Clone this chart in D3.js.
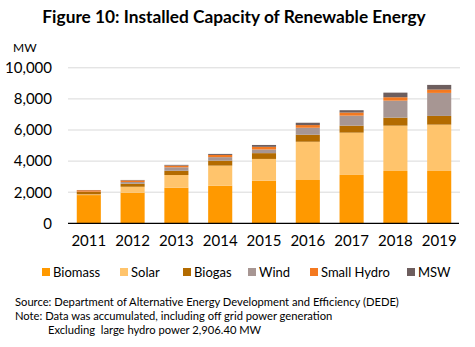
<html>
<head>
<script src="https://d3js.org/d3.v7.min.js"></script>
<style>
body { margin: 0; background: #fff; }
text { font-family: Lato, "Open Sans", sans-serif; fill: #000; }
</style>
</head>
<body>
<svg id="chart" width="475" height="347"></svg>
<script>
var years = ["2011", "2012", "2013", "2014", "2015", "2016", "2017", "2018", "2019"];
var seriesNames = ["Biomass", "Solar", "Biogas", "Wind", "Small Hydro", "MSW"];
var biomass    = [1815, 1965, 2290, 2420, 2740, 2785, 3110, 3365, 3365];
var solar      = [50, 385, 815, 1290, 1400, 2460, 2720, 2915, 2980];
var biogas     = [160, 193, 275, 320, 372, 450, 450, 515, 560];
var wind       = [7, 112, 222, 224, 234, 450, 643, 1093, 1480];
var smallHydro = [95, 102, 109, 142, 172, 172, 200, 219, 215];
var msw        = [15, 30, 47, 66, 120, 150, 150, 296, 300];
var yTicks = [0, 2000, 4000, 6000, 8000, 10000];
var colors = ["#FF9900", "#FFC46C", "#B36B00", "#A79693", "#F47920", "#6D5E5E"];

var svg = d3.select("#chart");

var rows = years.map(function(y, i) {
  return { year: y, "Biomass": biomass[i], "Solar": solar[i], "Biogas": biogas[i],
           "Wind": wind[i], "Small Hydro": smallHydro[i], "MSW": msw[i] };
});

var x = d3.scaleBand().domain(years).range([68, 460]).paddingInner(0.45).paddingOuter(0.2);
var y = d3.scaleLinear().domain([0, 10000]).range([223.3, 67.8]);

// gridlines
svg.selectAll("line.grid").data(yTicks.slice(1)).enter().append("line")
  .attr("class", "grid")
  .attr("x1", 68).attr("x2", 460)
  .attr("y1", function(d) { return y(d); })
  .attr("y2", function(d) { return y(d); })
  .attr("stroke", "#d9d9d9").attr("stroke-width", 1);

var stack = d3.stack().keys(seriesNames);
var layers = stack(rows);

svg.selectAll("g.layer").data(layers).enter().append("g")
  .attr("class", "layer")
  .attr("fill", function(d, i) { return colors[i]; })
  .selectAll("rect").data(function(d) { return d; }).enter().append("rect")
  .attr("x", function(d) { return x(d.data.year); })
  .attr("width", x.bandwidth())
  .attr("y", function(d) { return y(d[1]); })
  .attr("height", function(d) { return y(d[0]) - y(d[1]); });

// baseline
svg.append("line")
  .attr("x1", 68).attr("x2", 459)
  .attr("y1", y(0)).attr("y2", y(0))
  .attr("stroke", "#000").attr("stroke-width", 1.3);

// y axis labels
var yAxis = d3.axisLeft(y).tickValues(yTicks).tickSize(0).tickPadding(0)
  .tickFormat(d3.format(","));
var yg = svg.append("g").attr("transform", "translate(52,0)").call(yAxis);
yg.select(".domain").remove();
yg.selectAll("text").style("font-size", "15px").style("font-family", "Lato, sans-serif").attr("fill", "#000");

// x axis labels
var xAxis = d3.axisBottom(x).tickSize(0).tickPadding(12);
var xg = svg.append("g").attr("transform", "translate(0," + y(0) + ")").call(xAxis);
xg.select(".domain").remove();
xg.selectAll("text").style("font-size", "15px").style("font-family", "Lato, sans-serif").attr("fill", "#000");

// title
svg.append("text")
  .attr("x", 234).attr("y", 23)
  .attr("text-anchor", "middle")
  .style("font-size", "17.3px").style("font-weight", "bold")
  .text("Figure 10: Installed Capacity of Renewable Energy");

svg.append("text").attr("x", 13).attr("y", 52)
  .style("font-size", "12px").text("MW");

// legend
var legendX = [42, 120, 183, 248, 310, 407];
var legend = svg.selectAll("g.legend").data(seriesNames).enter().append("g")
  .attr("class", "legend")
  .attr("transform", function(d, i) { return "translate(" + legendX[i] + ",268)"; });
legend.append("rect").attr("width", 8).attr("height", 8)
  .attr("fill", function(d, i) { return colors[i]; });
legend.append("text").attr("x", 11).attr("y", 8.5)
  .style("font-size", "13px").text(function(d) { return d; });

// notes
var notes = svg.append("g").style("font-size", "11.2px");
notes.append("text").attr("x", 15).attr("y", 306)
  .text("Source: Department of Alternative Energy Development and Efficiency (DEDE)");
notes.append("text").attr("x", 15).attr("y", 320)
  .text("Note: Data was accumulated, including off grid power generation");
notes.append("text").attr("x", 48).attr("y", 334)
  .attr("xml:space", "preserve")
  .text("Excluding  large hydro power 2,906.40 MW");
</script>
</body>
</html>
